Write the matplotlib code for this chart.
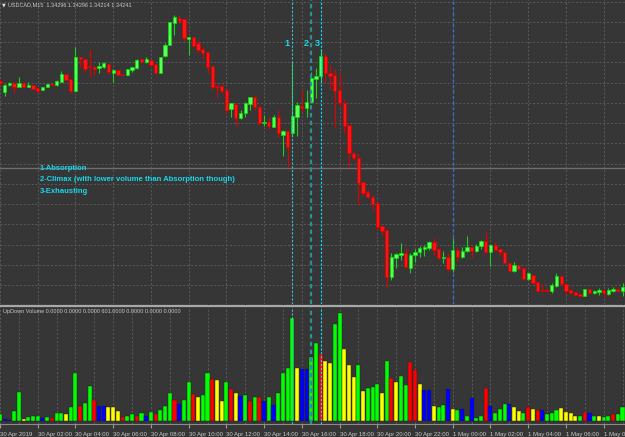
import numpy as np
import matplotlib.pyplot as plt
import matplotlib.transforms as mtransforms
from matplotlib.lines import Line2D

# ============================================================
# DATA  (USDCAD M15, prices in points: 1 point = 0.00001)
# ============================================================

opens = [
    134595, 134540, 134575, 134585, 134565, 134585, 134565, 134575, 134560, 134550,
    134565, 134580, 134575, 134590, 134630, 134605, 134545, 134715, 134705, 134670,
    134665, 134660, 134665, 134680, 134635, 134650, 134630, 134625, 134650, 134660,
    134705, 134690, 134700, 134680, 134635, 134720, 134775, 134885, 134910, 134905,
    134805, 134815, 134785, 134755, 134740, 134670, 134570, 134570, 134550, 134455,
    134480, 134410, 134435, 134480, 134515, 134465, 134385, 134390, 134365, 134415,
    134325, 134345, 134335, 134415, 134470, 134460, 134490, 134605, 134620, 134720,
    134635, 134625, 134550, 134485, 134375, 134235, 134210, 134090, 134040, 134015,
    133985, 133870, 133850, 133615, 133710, 133725, 133735, 133660, 133725, 133740,
    133755, 133760, 133790, 133755, 133710, 133715, 133655, 133750, 133715, 133745,
    133765, 133745, 133770, 133795, 133740, 133775, 133755, 133740, 133685, 133645,
    133675, 133660, 133605, 133625, 133590, 133550, 133550, 133545, 133570, 133620,
    133580, 133550, 133540, 133530, 133520, 133555, 133535, 133540, 133550, 133530,
    133545, 133555, 133545,
]

highs = [
    134605, 134580, 134590, 134585, 134615, 134585, 134590, 134575, 134560, 134565,
    134580, 134580, 134600, 134645, 134630, 134605, 134765, 134715, 134705, 134755,
    134670, 134690, 134690, 134680, 134655, 134650, 134630, 134655, 134665, 134705,
    134705, 134715, 134700, 134680, 134715, 134785, 134890, 134925, 134925, 134905,
    134815, 134815, 134800, 134765, 134740, 134670, 134585, 134580, 134550, 134485,
    134480, 134450, 134490, 134515, 134520, 134465, 134425, 134415, 134425, 134450,
    134350, 134345, 134690, 134490, 134550, 134550, 134640, 134660, 134755, 134735,
    134675, 134655, 134635, 134505, 134375, 134240, 134235, 134090, 134050, 134025,
    133985, 133875, 133850, 133735, 133735, 133785, 133760, 133735, 133755, 133770,
    133775, 133795, 133810, 133760, 133745, 133735, 133810, 133760, 133765, 133820,
    133770, 133780, 133800, 133840, 133780, 133790, 133760, 133740, 133685, 133690,
    133675, 133660, 133635, 133625, 133590, 133580, 133560, 133585, 133635, 133625,
    133585, 133555, 133540, 133530, 133555, 133555, 133550, 133560, 133550, 133560,
    133565, 133560, 133585,
]

lows = [
    134575, 134520, 134570, 134535, 134565, 134565, 134565, 134555, 134535, 134550,
    134565, 134575, 134570, 134590, 134600, 134535, 134545, 134665, 134640, 134615,
    134625, 134635, 134660, 134630, 134590, 134625, 134625, 134625, 134640, 134655,
    134690, 134685, 134670, 134635, 134635, 134715, 134775, 134825, 134885, 134795,
    134725, 134770, 134740, 134705, 134635, 134555, 134515, 134535, 134435, 134415,
    134370, 134405, 134415, 134450, 134450, 134375, 134370, 134355, 134365, 134315,
    134220, 134165, 134320, 134320, 134440, 134415, 134485, 134510, 134585, 134585,
    134555, 134360, 134465, 134335, 134165, 134200, 133975, 134025, 134010, 133950,
    133850, 133825, 133565, 133600, 133660, 133700, 133660, 133635, 133690, 133715,
    133720, 133750, 133725, 133705, 133685, 133645, 133640, 133695, 133710, 133740,
    133715, 133740, 133755, 133735, 133670, 133745, 133725, 133680, 133645, 133640,
    133655, 133605, 133600, 133585, 133545, 133540, 133545, 133535, 133565, 133575,
    133530, 133530, 133520, 133520, 133520, 133530, 133530, 133525, 133515, 133525,
    133540, 133540, 133520,
]

closes = [
    134585, 134575, 134585, 134565, 134585, 134565, 134575, 134555, 134545, 134565,
    134580, 134575, 134595, 134630, 134600, 134545, 134715, 134705, 134655, 134665,
    134655, 134670, 134685, 134640, 134650, 134625, 134625, 134655, 134665, 134700,
    134690, 134705, 134675, 134635, 134715, 134775, 134890, 134915, 134895, 134810,
    134815, 134770, 134750, 134735, 134665, 134565, 134565, 134545, 134450, 134485,
    134410, 134435, 134485, 134515, 134465, 134385, 134390, 134370, 134415, 134335,
    134345, 134265, 134420, 134475, 134460, 134490, 134610, 134620, 134720, 134635,
    134620, 134545, 134485, 134370, 134235, 134210, 134085, 134035, 134015, 133980,
    133865, 133845, 133615, 133715, 133730, 133735, 133665, 133725, 133740, 133760,
    133765, 133790, 133750, 133710, 133715, 133655, 133750, 133715, 133745, 133765,
    133745, 133770, 133795, 133740, 133775, 133750, 133740, 133685, 133645, 133675,
    133655, 133605, 133635, 133585, 133545, 133545, 133545, 133575, 133620, 133580,
    133545, 133535, 133525, 133520, 133555, 133535, 133545, 133550, 133535, 133550,
    133555, 133545, 133565,
]

volumes = [
    40, 10, 6, 58, 170, 10, 20, 28, 30, 14,
    22, 18, 46, 46, 40, 82, 286, 90, 106, 208,
    126, 88, 88, 84, 80, 58, 24, 30, 38, 30,
    46, 28, 52, 38, 64, 90, 166, 124, 100, 124,
    234, 160, 144, 154, 284, 248, 242, 120, 230, 190,
    166, 150, 154, 118, 144, 142, 120, 142, 92, 166,
    284, 318, 618, 316, 310, 310, 384, 466, 404, 362,
    350, 584, 646, 430, 334, 264, 334, 180, 194, 202,
    220, 168, 358, 258, 232, 266, 214, 354, 304, 220,
    186, 186, 90, 84, 94, 188, 70, 64, 70, 30,
    138, 18, 30, 196, 90, 46, 70, 100, 100, 82,
    60, 46, 84, 68, 64, 64, 42, 46, 64, 78,
    54, 46, 30, 28, 54, 46, 30, 30, 24, 30,
    38, 38, 82,
]

# UpDown Volume state per bar: G=up, R=down, Y=weak, B=neutral
vol_state = (
    "GBBGGYGGGBGRGGYGGRGGRBBYYYRGGRGBGRGGGRBGGRYGG"
    "RYYGRYBGRGRBGBGGGGYBBGGRYYGGYYYGYGGGYGRYG"
    "GRRYBBYGGBYGBGBGGRBGGGBYYGRYRBGGGYYYYGRBGYGGRG"
)

hour_labels = [
    "30 Apr 2019", "30 Apr 02:00", "30 Apr 04:00", "30 Apr 06:00", "30 Apr 08:00",
    "30 Apr 10:00", "30 Apr 12:00", "30 Apr 14:00", "30 Apr 16:00", "30 Apr 18:00",
    "30 Apr 20:00", "30 Apr 22:00", "1 May 00:00", "1 May 02:00", "1 May 04:00",
    "1 May 06:00", "1 May 08:00",
]

# bars marked on the chart: 1 = absorption, 2 = climax, 3 = exhausting
mark_bars = [62, 66, 68]
mark_names = ["1", "2", "3"]
day_sep_bar = 96

# ============================================================
# STYLE
# ============================================================

BG = "#363636"
GRID = "#5c5c5c"
TXT = "#c8c8c8"
CYAN = "#19d7ec"
STATE_COLORS = {"G": "#00ff00", "R": "#ff0000", "Y": "#ffff00", "B": "#0000ff"}

plt.rcParams["font.family"] = ["Liberation Sans", "DejaVu Sans"]


def main() -> None:
    o = np.array(opens) / 1e5
    h = np.array(highs) / 1e5
    l = np.array(lows) / 1e5
    c = np.array(closes) / 1e5
    x = np.arange(len(o))
    up = c >= o

    fig = plt.figure(figsize=(6.25, 4.37), dpi=100, facecolor=BG)
    ax = fig.add_axes([0, 1 - 304 / 437, 1, 304 / 437], facecolor=BG)
    axv = fig.add_axes([0, 1 - 424 / 437, 1, 117 / 437], facecolor=BG, sharex=ax)

    # --- candles
    wick_col = np.where(up, "#1fcf1f", "#e00000")
    ax.vlines(x, l, h, colors=wick_col, linewidth=0.8, zorder=3)
    body_lo = np.minimum(o, c)
    body_h = np.maximum(np.abs(c - o), 0.00004)
    ax.bar(x[up], body_h[up], bottom=body_lo[up], width=0.7,
           color="#5cff5c", edgecolor="#00e000", linewidth=0.5, zorder=4)
    ax.bar(x[~up], body_h[~up], bottom=body_lo[~up], width=0.7,
           color="#ff1414", edgecolor="#d40000", linewidth=0.5, zorder=4)

    ax.set_xlim(0.254, 132.53)
    ax.set_ylim(1.3348, 1.3500)
    ax.set_yticks(np.arange(1.349925, 1.3348, -0.0010125))
    ax.set_xticks(np.arange(0, 133, 4))
    ax.grid(True, color=GRID, linestyle=(0, (2, 2)), linewidth=0.7)
    ax.tick_params(left=False, bottom=False, labelleft=False, labelbottom=False)
    for s in ax.spines.values():
        s.set_visible(False)

    ax.axhline(1.34158, color="#6e6e6e", linewidth=1.0, zorder=2)
    ax.axvline(day_sep_bar, color="#3a6ae8", linestyle=(0, (2, 2)), linewidth=1.0, zorder=2)

    # --- volume
    cols = [STATE_COLORS[s] for s in vol_state]
    axv.bar(x, volumes, width=0.86, color=cols, edgecolor="#1e1e1e", linewidth=0.3, zorder=3)
    axv.set_ylim(-19.85, 683.9)
    axv.set_yticks([])
    axv.set_xticks(np.arange(0, 133, 8))
    axv.set_xticks(np.arange(0, 133, 4), minor=True)
    axv.set_xticklabels(hour_labels, ha="left", fontsize=4.3, color=TXT)
    shift = mtransforms.ScaledTranslation(1.5 / 100, 0, fig.dpi_scale_trans)
    for lab in axv.get_xticklabels():
        lab.set_transform(lab.get_transform() + shift)
    axv.grid(True, axis="x", which="both", color=GRID, linestyle=(0, (2, 2)), linewidth=0.7)
    axv.tick_params(axis="x", which="major", length=3, color="#9a9a9a", pad=2.5, direction="out")
    axv.tick_params(axis="x", which="minor", length=0)
    for name, s in axv.spines.items():
        s.set_visible(name == "bottom")
    axv.spines["bottom"].set_color("#8a8a8a")
    axv.spines["bottom"].set_linewidth(0.8)

    # --- marker lines through both panels
    line_styles = [("#3fbfcf", 0.8), ("#2a8f98", 1.6), ("#00e5ff", 0.8)]
    for b, (col, lw) in zip(mark_bars, line_styles):
        for a in (ax, axv):
            a.axvline(b, color=col, linewidth=lw, linestyle=(0, (2, 1.5)), zorder=5)
    for b, t, dx in zip(mark_bars, mark_names, [-1.2, -1.0, -0.7]):
        ax.text(b + dx, 1.34785, t, color=CYAN, fontsize=6.5, fontweight="bold",
                ha="center", va="center", zorder=6)

    # panel separator
    fig.add_artist(Line2D([0, 1], [1 - 305.5 / 437] * 2, color="#a8a8a8", linewidth=1.6))

    # --- texts
    fig.text(2 / 625, 1 - 5 / 437, "\u25bc", color="#e0e0e0", fontsize=3.5, va="center",
             family="DejaVu Sans")
    fig.text(8 / 625, 1 - 5 / 437, "USDCAD,M15  1.34296 1.34296 1.34214 1.34241",
             color=TXT, fontsize=4.0, va="center")
    fig.text(3 / 625, 1 - 312 / 437,
             "UpDown Volume 0.0000 0.0000 0.0000 601.0000 0.0000 0.0000 0.0000",
             color=TXT, fontsize=3.95, va="center")
    notes = ["1-Absorption", "2-Climax (with lower volume than Absorption though)", "3-Exhausting"]
    for k, t in enumerate(notes):
        fig.text(40 / 625, 1 - (168 + 11.5 * k) / 437, t, color=CYAN, fontsize=5.5,
                 fontweight="bold", va="center")

    fig.savefig("out.png", dpi=100, facecolor=BG)


if __name__ == "__main__":
    main()
